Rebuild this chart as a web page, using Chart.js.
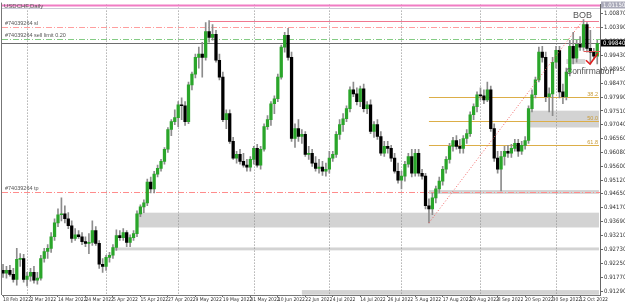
<!DOCTYPE html>
<html>
<head>
<meta charset="utf-8">
<script src="https://cdn.jsdelivr.net/npm/chart.js@4.4.0/dist/chart.umd.min.js"></script>
<style>
  html, body { margin: 0; padding: 0; background: #fff; }
  #wrap { width: 625px; height: 305px; }
</style>
</head>
<body>
<div id="wrap"><canvas id="chart" width="625" height="305"></canvas></div>
<script>
// USDCHF, Daily - one value per trading day from 18 Feb 2022
var dateTicks = ['18 Feb 2022','2 Mar 2022','14 Mar 2022','24 Mar 2022','5 Apr 2022','15 Apr 2022','27 Apr 2022',
  '9 May 2022','19 May 2022','31 May 2022','10 Jun 2022','22 Jun 2022','4 Jul 2022','14 Jul 2022','26 Jul 2022',
  '5 Aug 2022','17 Aug 2022','29 Aug 2022','8 Sep 2022','20 Sep 2022','30 Sep 2022','12 Oct 2022'];
var tickEvery = 8;
var monthStarts = [7, 30, 51, 73, 95, 116, 139, 161];
var yTicks = [1.00870,1.00390,0.99910,0.99430,0.98950,0.98470,0.97990,0.97510,0.97040,0.96560,0.96080,
  0.95600,0.95120,0.94650,0.94170,0.93690,0.93210,0.92730,0.92250,0.91770,0.91290];

var opens = [
  0.9201,0.9191,0.9201,0.9187,0.9170,0.9239,0.9242,0.9170,0.9181,0.9194,
  0.9167,0.9174,0.9242,0.9266,0.9277,0.9317,0.9365,0.9393,0.9396,0.9379,
  0.9355,0.9311,0.9324,0.9317,0.9300,0.9294,0.9297,0.9338,0.9294,0.9222,
  0.9215,0.9246,0.9253,0.9280,0.9321,0.9314,0.9331,0.9297,0.9314,0.9328,
  0.9396,0.9420,0.9434,0.9506,0.9482,0.9533,0.9553,0.9577,0.9619,0.9687,
  0.9714,0.9728,0.9772,0.9769,0.9714,0.9841,0.9878,0.9936,0.9947,0.9936,
  1.0025,1.0005,1.0015,0.9926,0.9868,0.9721,0.9742,0.9646,0.9588,0.9601,
  0.9577,0.9564,0.9557,0.9584,0.9622,0.9564,0.9619,0.9697,0.9721,0.9776,
  0.9793,0.9868,0.9971,1.0012,0.9936,0.9656,0.9690,0.9663,0.9670,0.9601,
  0.9605,0.9571,0.9553,0.9557,0.9543,0.9550,0.9588,0.9601,0.9670,0.9704,
  0.9724,0.9759,0.9824,0.9810,0.9783,0.9827,0.9759,0.9772,0.9680,0.9704,
  0.9663,0.9605,0.9629,0.9622,0.9588,0.9543,0.9512,0.9526,0.9567,0.9594,
  0.9536,0.9605,0.9536,0.9526,0.9424,0.9413,0.9451,0.9482,0.9509,0.9550,
  0.9584,0.9629,0.9649,0.9629,0.9622,0.9656,0.9673,0.9738,0.9766,0.9807,
  0.9803,0.9789,0.9824,0.9690,0.9588,0.9550,0.9594,0.9612,0.9605,0.9622,
  0.9639,0.9612,0.9632,0.9649,0.9759,0.9807,0.9858,0.9954,0.9936,0.9800,
  0.9810,0.9919,0.9960,0.9817,0.9800,0.9885,0.9974,0.9933,0.9981,0.9971,
  1.0049,0.9967,0.9954,0.9940];
var highs = [
  0.9222,0.9215,0.9218,0.9208,0.9277,0.9259,0.9256,0.9194,0.9208,0.9215,
  0.9194,0.9253,0.9277,0.9290,0.9331,0.9379,0.9413,0.9451,0.9424,0.9400,
  0.9372,0.9345,0.9338,0.9331,0.9317,0.9328,0.9372,0.9352,0.9304,0.9242,
  0.9253,0.9263,0.9290,0.9341,0.9338,0.9345,0.9338,0.9324,0.9338,0.9406,
  0.9427,0.9444,0.9516,0.9523,0.9543,0.9564,0.9584,0.9625,0.9694,0.9721,
  0.9755,0.9783,0.9796,0.9783,0.9851,0.9885,0.9947,0.9971,0.9988,1.0056,
  1.0063,1.0049,1.0029,0.9947,0.9885,0.9755,0.9755,0.9660,0.9612,0.9619,
  0.9605,0.9584,0.9594,0.9629,0.9636,0.9629,0.9707,0.9735,0.9783,0.9803,
  0.9878,0.9978,1.0022,1.0036,0.9954,0.9707,0.9721,0.9687,0.9680,0.9629,
  0.9619,0.9594,0.9584,0.9577,0.9571,0.9612,0.9612,0.9680,0.9721,0.9742,
  0.9769,0.9834,0.9851,0.9831,0.9837,0.9844,0.9783,0.9789,0.9714,0.9721,
  0.9680,0.9646,0.9646,0.9632,0.9605,0.9571,0.9543,0.9577,0.9605,0.9619,
  0.9619,0.9619,0.9550,0.9536,0.9448,0.9468,0.9492,0.9523,0.9560,0.9594,
  0.9639,0.9660,0.9666,0.9653,0.9666,0.9687,0.9748,0.9776,0.9817,0.9831,
  0.9824,0.9851,0.9837,0.9707,0.9612,0.9612,0.9629,0.9632,0.9636,0.9653,
  0.9653,0.9646,0.9663,0.9769,0.9824,0.9868,0.9971,0.9974,0.9954,0.9831,
  0.9936,0.9974,0.9974,0.9844,0.9899,0.9995,1.0022,0.9995,1.0008,1.0066,
  1.0056,1.0029,0.9967,0.9995];
var lows = [
  0.9177,0.9174,0.9181,0.9160,0.9150,0.9215,0.9160,0.9147,0.9164,0.9157,
  0.9153,0.9167,0.9229,0.9242,0.9263,0.9304,0.9352,0.9372,0.9365,0.9345,
  0.9297,0.9304,0.9311,0.9290,0.9283,0.9259,0.9287,0.9287,0.9208,0.9194,
  0.9201,0.9229,0.9242,0.9270,0.9304,0.9304,0.9283,0.9283,0.9304,0.9317,
  0.9386,0.9400,0.9424,0.9468,0.9468,0.9523,0.9543,0.9567,0.9608,0.9666,
  0.9704,0.9697,0.9721,0.9701,0.9707,0.9824,0.9865,0.9899,0.9868,0.9926,
  0.9988,0.9995,0.9919,0.9858,0.9714,0.9690,0.9639,0.9584,0.9571,0.9567,
  0.9557,0.9543,0.9543,0.9567,0.9557,0.9550,0.9612,0.9687,0.9701,0.9742,
  0.9783,0.9861,0.9954,0.9926,0.9646,0.9625,0.9646,0.9639,0.9594,0.9584,
  0.9560,0.9543,0.9536,0.9529,0.9526,0.9536,0.9577,0.9591,0.9653,0.9680,
  0.9714,0.9748,0.9800,0.9772,0.9766,0.9748,0.9742,0.9673,0.9660,0.9653,
  0.9598,0.9594,0.9605,0.9577,0.9536,0.9502,0.9482,0.9509,0.9557,0.9523,
  0.9526,0.9526,0.9516,0.9413,0.9365,0.9393,0.9434,0.9468,0.9495,0.9536,
  0.9571,0.9612,0.9619,0.9605,0.9605,0.9639,0.9663,0.9721,0.9748,0.9789,
  0.9776,0.9783,0.9680,0.9577,0.9536,0.9475,0.9564,0.9591,0.9591,0.9612,
  0.9594,0.9601,0.9619,0.9639,0.9748,0.9796,0.9851,0.9919,0.9783,0.9748,
  0.9735,0.9899,0.9796,0.9776,0.9789,0.9872,0.9913,0.9919,0.9960,0.9960,
  0.9954,0.9913,0.9930,0.9913];
var closes = [
  0.9191,0.9201,0.9187,0.9170,0.9239,0.9242,0.9170,0.9181,0.9194,0.9167,
  0.9174,0.9242,0.9266,0.9277,0.9317,0.9365,0.9393,0.9396,0.9379,0.9355,
  0.9311,0.9324,0.9317,0.9300,0.9294,0.9297,0.9338,0.9294,0.9222,0.9215,
  0.9246,0.9253,0.9280,0.9321,0.9314,0.9331,0.9297,0.9314,0.9328,0.9396,
  0.9420,0.9434,0.9506,0.9482,0.9533,0.9553,0.9577,0.9619,0.9687,0.9714,
  0.9728,0.9772,0.9769,0.9714,0.9841,0.9878,0.9936,0.9947,0.9936,1.0025,
  1.0005,1.0015,0.9926,0.9868,0.9721,0.9742,0.9646,0.9588,0.9601,0.9577,
  0.9564,0.9557,0.9584,0.9622,0.9564,0.9619,0.9697,0.9721,0.9776,0.9793,
  0.9868,0.9971,1.0012,0.9936,0.9656,0.9690,0.9663,0.9670,0.9601,0.9605,
  0.9571,0.9553,0.9557,0.9543,0.9550,0.9588,0.9601,0.9670,0.9704,0.9724,
  0.9759,0.9824,0.9810,0.9783,0.9827,0.9759,0.9772,0.9680,0.9704,0.9663,
  0.9605,0.9629,0.9622,0.9588,0.9543,0.9512,0.9526,0.9567,0.9594,0.9536,
  0.9605,0.9536,0.9526,0.9424,0.9413,0.9451,0.9482,0.9509,0.9550,0.9584,
  0.9629,0.9649,0.9629,0.9622,0.9656,0.9673,0.9738,0.9766,0.9807,0.9803,
  0.9789,0.9824,0.9690,0.9588,0.9550,0.9594,0.9612,0.9605,0.9622,0.9639,
  0.9612,0.9632,0.9649,0.9759,0.9807,0.9858,0.9954,0.9936,0.9800,0.9810,
  0.9919,0.9960,0.9817,0.9800,0.9885,0.9974,0.9933,0.9981,0.9971,1.0049,
  0.9967,0.9954,0.9940,0.9984];

// drawn objects on the chart (price levels, bar index where they start)
var topLevel = 1.0115, topGrey = 1.0106;
var slLevel = 1.0039, sellLimit = 0.9998, tpLevel = 0.9471;
var bobLevel = 1.0063, bobFrom = 60;
var fibLow = 0.9365, fibHigh = 1.0066, fibFrom = 124, fibTo = 169;
var fibRatios = [0.382, 0.5, 0.618];
var objEnd = 173.5;
var zones = [
  { from: 39, top: 0.9400, bottom: 0.9349 },
  { from: 32, top: 0.9280, bottom: 0.9270 },
  { from: 124, top: 0.9478, bottom: 0.9465 },
  { from: 152.5, top: 0.9752, bottom: 0.9694 },
  { from: 87, top: 0.9133, bottom: 0.9117 },
  { from: 164, to: 169.5, top: 0.9930, bottom: 0.9913 }
];
var confirmLevel = 0.9957, confirmFrom = 169;
var tick = [[169.7, 0.9926], [170.9, 0.9913], [173.2, 0.9950]];

var bodies = opens.map(function(o, i) { return { x: i, y: [o, closes[i]] }; });
var wicks = lows.map(function(l, i) { return { x: i, y: [l, highs[i]] }; });
var bodyColors = opens.map(function(o, i) { return closes[i] >= o ? '#2aa52a' : '#000000'; });

var FONT = 'Liberation Sans, Arial, sans-serif';
var NARROW = '"Liberation Sans Narrow", "DejaVu Sans Condensed", "Liberation Sans", sans-serif';

var overlay = {
  id: 'overlay',
  beforeDatasetsDraw: function(chart) {
    var ctx = chart.ctx, a = chart.chartArea;
    var xs = chart.scales.x, ys = chart.scales.y;
    var X = function(v) { return xs.getPixelForValue(v); };
    var Y = function(v) { return Math.round(ys.getPixelForValue(v)) + 0.5; };
    var hline = function(price, from, to, color, dash, w) {
      ctx.beginPath();
      ctx.setLineDash(dash || []);
      ctx.lineWidth = w || 1;
      ctx.strokeStyle = color;
      ctx.moveTo(from, Y(price));
      ctx.lineTo(to, Y(price));
      ctx.stroke();
    };
    ctx.save();
    ctx.beginPath();
    ctx.rect(a.left, a.top - 2, a.right - a.left, a.bottom - a.top + 2);
    ctx.clip();

    // grey zones
    ctx.fillStyle = '#d3d3d3';
    zones.forEach(function(z) {
      var x1 = X(z.from), x2 = X(z.to != null ? z.to : objEnd);
      var y1 = ys.getPixelForValue(z.top), y2 = ys.getPixelForValue(z.bottom);
      ctx.fillRect(x1, y1, x2 - x1, y2 - y1);
    });

    // month separators
    ctx.strokeStyle = '#8a8a8a';
    ctx.lineWidth = 1;
    ctx.setLineDash([1, 2]);
    monthStarts.forEach(function(m) {
      var x = Math.round(X(m)) + 0.5;
      ctx.beginPath(); ctx.moveTo(x, a.top); ctx.lineTo(x, a.bottom); ctx.stroke();
    });

    // levels
    hline(topLevel, a.left, a.right, '#f07cc4', [], 2);
    hline(topGrey, a.left, a.right, '#c9c9d6', [], 1);
    hline(bobLevel, X(bobFrom), X(objEnd), '#f07890', [], 1);
    hline(slLevel, a.left, a.right, '#ff9e9e', [6, 2, 1, 2], 1);
    hline(sellLimit, a.left, a.right, '#84cc84', [6, 2, 1, 2], 1);
    hline(closes[closes.length - 1], a.left, a.right, '#6e6e6e', [], 1);
    hline(tpLevel, a.left, a.right, '#ff8c8c', [6, 2, 1, 2], 1);

    // fibonacci levels
    fibRatios.forEach(function(r) {
      hline(fibHigh - (fibHigh - fibLow) * r, X(fibFrom), X(objEnd), '#dcae48', [], 1);
    });
    ctx.restore();
  },
  afterDatasetsDraw: function(chart) {
    var ctx = chart.ctx, a = chart.chartArea;
    var xs = chart.scales.x, ys = chart.scales.y;
    var X = function(v) { return xs.getPixelForValue(v); };
    var Y = function(v) { return ys.getPixelForValue(v); };
    ctx.save();

    // left edge of the chart window
    ctx.beginPath();
    ctx.strokeStyle = '#777';
    ctx.lineWidth = 1;
    ctx.moveTo(a.left - 0.5, a.top - 2);
    ctx.lineTo(a.left - 0.5, a.bottom);
    ctx.stroke();

    // fibo trend line
    ctx.beginPath();
    ctx.setLineDash([1, 2]);
    ctx.strokeStyle = '#f06464';
    ctx.lineWidth = 1;
    ctx.moveTo(X(fibFrom), Y(fibLow));
    ctx.lineTo(X(fibTo), Y(fibHigh));
    ctx.stroke();
    ctx.setLineDash([]);

    // confirmation line and tick
    ctx.beginPath();
    ctx.strokeStyle = '#e05a5a';
    ctx.moveTo(X(confirmFrom), Math.round(Y(confirmLevel)) + 0.5);
    ctx.lineTo(a.right, Math.round(Y(confirmLevel)) + 0.5);
    ctx.stroke();
    ctx.beginPath();
    ctx.strokeStyle = '#e01e1e';
    ctx.lineWidth = 1.6;
    tick.forEach(function(p, k) {
      if (k === 0) ctx.moveTo(X(p[0]), Y(p[1])); else ctx.lineTo(X(p[0]), Y(p[1]));
    });
    ctx.stroke();

    // texts
    ctx.textBaseline = 'alphabetic';
    ctx.textAlign = 'left';
    ctx.fillStyle = '#555';
    ctx.font = '6px ' + FONT;
    ctx.fillText('USDCHF,Daily', 4, 8);
    ctx.font = '5.5px ' + FONT;
    ctx.fillText('#74039264 sl', 5, Y(slLevel) - 2);
    ctx.fillText('#74039264 sell limit 0.20', 5, Y(sellLimit) - 2);
    ctx.fillText('#74039264 tp', 5, Y(tpLevel) - 2);

    ctx.fillStyle = '#c89a36';
    ctx.textAlign = 'right';
    fibRatios.forEach(function(r) {
      ctx.fillText((r * 100).toFixed(1), X(objEnd) - 1, Y(fibHigh - (fibHigh - fibLow) * r) - 1);
    });

    ctx.fillStyle = '#555';
    ctx.textAlign = 'center';
    ctx.font = '9px ' + FONT;
    ctx.fillText('BOB', X(fibTo) - 1, Y(fibHigh) - 2);
    ctx.textAlign = 'left';
    ctx.font = '8.5px ' + FONT;
    ctx.fillText('Confirmation', 566, Y(0.9913) + 10);

    // price boxes on the axis
    var box = function(price, bg, fg) {
      var y = Math.round(Y(price));
      ctx.fillStyle = bg;
      ctx.fillRect(a.right + 1, y - 3.5, 625 - a.right - 1, 7);
      ctx.fillStyle = fg;
      ctx.font = '6px ' + NARROW;
      ctx.textAlign = 'left';
      ctx.textBaseline = 'middle';
      ctx.fillText(price.toFixed(5), a.right + 3, y + 0.5);
    };
    box(topLevel, '#a9a9b8', '#ffffff');
    box(closes[closes.length - 1], '#000000', '#ffffff');
    ctx.restore();
  }
};

new Chart(document.getElementById('chart'), {
  type: 'bar',
  data: {
    datasets: [
      { data: bodies, backgroundColor: bodyColors, borderWidth: 0, barThickness: 2.6, minBarLength: 1, grouped: false, order: 1 },
      { data: wicks, backgroundColor: '#8c8c8c', borderWidth: 0, barThickness: 1, grouped: false, order: 2 }
    ]
  },
  options: {
    responsive: false,
    animation: false,
    devicePixelRatio: 1,
    layout: { padding: { left: 2, top: 2, right: 0, bottom: 0 } },
    plugins: { legend: { display: false }, tooltip: { enabled: false } },
    scales: {
      x: {
        type: 'linear', min: -0.3, max: 173.8, offset: false,
        grid: { drawOnChartArea: false, tickLength: 2, color: '#666', offset: false },
        border: { color: '#777' },
        afterBuildTicks: function(s) { s.ticks = dateTicks.map(function(d, k) { return { value: k * tickEvery }; }); },
        afterFit: function(s) { s.height = 10; },
        ticks: {
          autoSkip: false, maxRotation: 0, minRotation: 0, align: 'start', padding: 0,
          font: { family: NARROW, size: 5 }, color: '#333',
          callback: function(v, i) { return dateTicks[i]; }
        }
      },
      y: {
        position: 'right', min: 0.9116, max: 1.0118,
        grid: { drawOnChartArea: false, tickLength: 3, color: '#666' },
        border: { color: '#666' },
        afterBuildTicks: function(s) { s.ticks = yTicks.map(function(v) { return { value: v }; }); },
        afterFit: function(s) { s.width = 25; },
        ticks: {
          autoSkip: false, padding: 1,
          font: { family: NARROW, size: 6 }, color: '#333',
          callback: function(v) { return v.toFixed(5); }
        }
      }
    }
  },
  plugins: [overlay]
});
</script>
</body>
</html>
